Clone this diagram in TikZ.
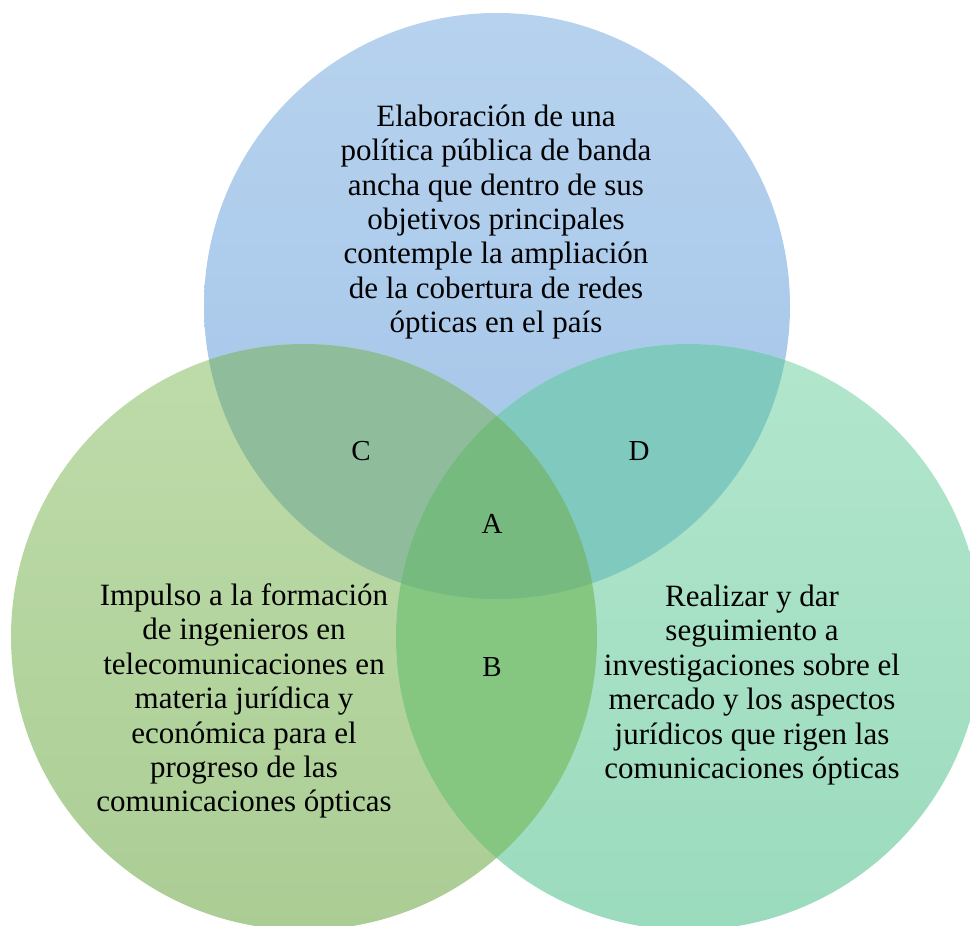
\documentclass[tikz,border=0pt]{standalone}
\usepackage{fontspec}
\setmainfont{Liberation Serif}
\definecolor{blueT}{HTML}{B6D2EE}
\definecolor{blueB}{HTML}{A3C4E8}
\definecolor{greenT}{HTML}{BEDCAA}
\definecolor{greenB}{HTML}{ABCD94}
\definecolor{tealT}{HTML}{B2E6CD}
\definecolor{tealB}{HTML}{9BDBBD}
\definecolor{regC}{HTML}{8FBC9A}
\definecolor{regD}{HTML}{7FC9BF}
\definecolor{regA}{HTML}{76BA7F}
\definecolor{regB}{HTML}{85C680}
\begin{document}
\begin{tikzpicture}[x=1pt,y=-1pt,
  body/.style={align=center,font=\fontsize{31}{34.4}\selectfont,inner sep=0pt},
  lab/.style={font=\fontsize{29}{30}\selectfont,inner sep=0pt}]
\useasboundingbox (0,0) rectangle (970,926);
\def\R{293}
\coordinate (ct) at (497,306);
\coordinate (cl) at (304,637);
\coordinate (cr) at (689,637);
% circles
\shade[top color=blueT,bottom color=blueB] (ct) circle (\R);
\shade[top color=greenT,bottom color=greenB] (cl) circle (\R);
\shade[top color=tealT,bottom color=tealB] (cr) circle (\R);
% overlaps
\begin{scope}
  \clip (ct) circle (\R);
  \fill[regC] (cl) circle (\R);
  \fill[regD] (cr) circle (\R);
\end{scope}
\begin{scope}
  \clip (cl) circle (\R);
  \fill[regB] (cr) circle (\R);
\end{scope}
\begin{scope}
  \clip (ct) circle (\R);
  \clip (cl) circle (\R);
  \fill[regA] (cr) circle (\R);
\end{scope}
% texts
\node[body] (ttop) at (496,222) {Elaboración de una\\política pública de banda\\ancha que dentro de sus\\objetivos principales\\contemple la ampliación\\de la cobertura de redes\\ópticas en el país};
\node[body] (tleft) at (244,701) {Impulso a la formación\\de ingenieros en\\telecomunicaciones en\\materia jurídica y\\económica para el\\progreso de las\\comunicaciones ópticas};
\node[body] (tright) at (752,685) {Realizar y dar\\seguimiento a\\investigaciones sobre el\\mercado y los aspectos\\jurídicos que rigen las\\comunicaciones ópticas};
\node[lab] (lC) at (361,451) {C};
\node[lab] (lD) at (639,451) {D};
\node[lab] (lA) at (492,524) {A};
\node[lab] (lB) at (492,667) {B};
\end{tikzpicture}
\end{document}
